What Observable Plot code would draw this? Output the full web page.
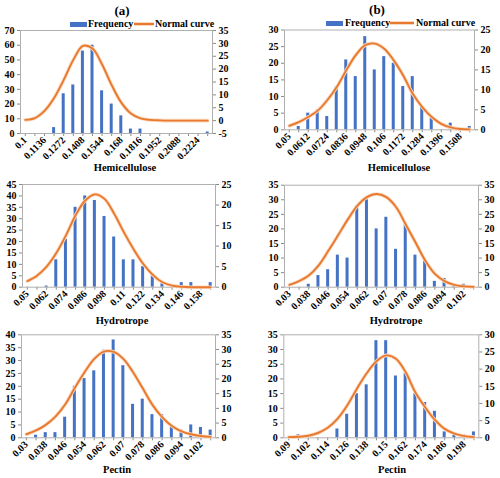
<!DOCTYPE html>
<html><head><meta charset="utf-8">
<script src="https://cdn.jsdelivr.net/npm/d3@7"></script>
<script src="https://cdn.jsdelivr.net/npm/@observablehq/plot@0.6"></script>
<style>
body{margin:0;background:#fff;}
#chart{position:relative;width:500px;height:478px;background:#fff;font-family:"Liberation Serif","Times New Roman",serif;font-weight:bold;color:#000;overflow:hidden}
#chart svg{position:absolute}
#chart svg text{fill:#000}
.t{position:absolute;white-space:nowrap;line-height:1;}
.c{transform:translate(-50%,-50%);}
.l{transform:translateY(-50%);}
</style></head>
<body><div id="chart"></div>
<script>
// ---------- data ----------
const catsA = ["0.1","0.1068","0.1136","0.1204","0.1272","0.134","0.1408","0.1476","0.1544","0.1612","0.168","0.1748","0.1816","0.1884","0.1952","0.202","0.2088","0.2156","0.2224","0.2292"];
const labelsA = ["0.1","0.1136","0.1272","0.1408","0.1544","0.168","0.1816","0.1952","0.2088","0.2224"];
const freqA = [0,0,0,4,27,33,56,60,29,20,12,3,3,0,0,0,0,0,0,1];
const curveA = [0.3,1.0,3.8,8.8,15.8,23.6,29.0,28.0,21.8,13.8,7.0,2.8,0.9,0.3,0.1,0,0,0,0,0];
const leftTicksA = [0,10,20,30,40,50,60,70];
const rightTicksA = [-5,0,5,10,15,20,25,30,35];

const catsB = ["0.05","0.0556","0.0612","0.0668","0.0724","0.078","0.0836","0.0892","0.0948","0.1004","0.106","0.1116","0.1172","0.1228","0.1284","0.134","0.1396","0.1452","0.1508","0.1564"];
const labelsB = ["0.05","0.0612","0.0724","0.0836","0.0948","0.106","0.1172","0.1284","0.1396","0.1508"];
const freqB = [0,1,5,6,4,13,21,16,28,18,22,20,13,16,7,4,0,2,0,1];
const curveB = [1.0,1.9,3.2,4.8,7.4,10.7,14.9,18.7,21.2,21.6,20.3,17.4,13.6,9.0,5.7,3.2,1.5,0.6,0.2,0.1];
const leftTicksB = [0,5,10,15,20,25,30];
const rightTicksB = [0,5,10,15,20,25];

const catsC = ["0.05","0.056","0.062","0.068","0.074","0.08","0.086","0.092","0.098","0.104","0.11","0.116","0.122","0.128","0.134","0.14","0.146","0.152","0.158","0.164"];
const labelsC = ["0.05","0.062","0.074","0.086","0.098","0.11","0.122","0.134","0.146","0.158"];
const freqC = [0,0,0.5,12,21,35,40,38,31,22,12,12,9,6,1.5,0,2,2,0,2];
const curveC = [1.5,2.8,5.0,8.3,12.6,17.5,21.1,22.6,21.5,17.9,13.4,9.3,5.7,3.0,1.2,0.4,0.1,0,0,0];
const leftTicksC = [0,5,10,15,20,25,30,35,40,45];
const rightTicksC = [0,5,10,15,20,25];

const catsDE = ["0.03","0.034","0.038","0.042","0.046","0.05","0.054","0.058","0.062","0.066","0.07","0.074","0.078","0.082","0.086","0.09","0.094","0.098","0.102","0.106"];
const labelsDE = ["0.03","0.038","0.046","0.054","0.062","0.07","0.078","0.086","0.094","0.102"];
const freqD = [0,0,1,4,6,11,10,28,30,20,24,13,22,11,9,2,3,0.5,1,0];
const curveD = [0.8,2.1,4.0,7.4,12.4,17.7,23.1,27.9,30.9,32.0,30.9,27.5,21.5,15.4,9.2,4.6,2.1,0.8,0.3,0.1];
const leftTicksD = [0,5,10,15,20,25,30,35];
const rightTicksD = [0,5,10,15,20,25,30,35];

const freqE = [0,1,2,2,8,20,23,26,34,38,28,13,15,9,9,5,3,5,4,3];
const curveE = [1.2,2.5,4.4,7.2,11.3,17.0,22.3,26.8,29.3,29.2,26.8,22.3,16.8,11.2,7.0,4.0,2.2,1.2,0.6,0.3];
const leftTicksE = [0,5,10,15,20,25,30,35,40];
const rightTicksE = [0,5,10,15,20,25,30,35];

const catsF = ["0.09","0.096","0.102","0.108","0.114","0.12","0.126","0.132","0.138","0.144","0.15","0.156","0.162","0.168","0.174","0.18","0.186","0.192","0.198","0.204"];
const labelsF = ["0.09","0.102","0.114","0.126","0.138","0.15","0.162","0.174","0.186","0.198"];
const freqF = [0,1,0,0,0,3,8,15,18,33,33,21,22,15,12,9,2,1,1,2];
const curveF = [0.2,0.3,0.6,1.4,2.9,5.5,9.4,14.3,18.8,22.3,24.0,23.0,19.1,13.2,8.9,5.2,2.6,1.2,0.5,0.2];
const leftTicksF = [0,5,10,15,20,25,30,35];
const rightTicksF = [0,5,10,15,20,25,30];

const panelTitles = ["(a)","(b)"];
const axisTitles = ["Hemicellulose","Hemicellulose","Hydrotrope","Hydrotrope","Pectin","Pectin"];
const legendLabels = ["Frequency","Normal curve"];

// ---------- layout ----------
const BLUE = "#4472c4", ORANGE = "#e8792f", GLOW = "#fbd9be";
const panels = [
  {left:0,   top:0,   w:250, h:168, ml:20,   mr:38,   mt:30,   mb:35,   cats:catsA,  labels:labelsA,  freq:freqA, curve:curveA, tL:leftTicksA, tR:rightTicksA},
  {left:250, top:0,   w:250, h:168, ml:34,   mr:26,   mt:29.5, mb:38.7, cats:catsB,  labels:labelsB,  freq:freqB, curve:curveB, tL:leftTicksB, tR:rightTicksB},
  {left:0,   top:150, w:250, h:168, ml:22,   mr:35,   mt:34,   mb:31.3, cats:catsC,  labels:labelsC,  freq:freqC, curve:curveC, tL:leftTicksC, tR:rightTicksC},
  {left:250, top:150, w:250, h:168, ml:34,   mr:22,   mt:34.7, mb:31.3, cats:catsDE, labels:labelsDE, freq:freqD, curve:curveD, tL:leftTicksD, tR:rightTicksD},
  {left:0,   top:300, w:250, h:178, ml:21,   mr:35,   mt:34.3, mb:40.7, cats:catsDE, labels:labelsDE, freq:freqE, curve:curveE, tL:leftTicksE, tR:rightTicksE},
  {left:250, top:300, w:250, h:178, ml:33.3, mr:21.7, mt:34.3, mb:40.7, cats:catsF,  labels:labelsF,  freq:freqF, curve:curveF, tL:leftTicksF, tR:rightTicksF}
];

const chart = document.getElementById("chart");
const svgStyle = {background:"transparent", color:"#8a8a8a", fontFamily:'"Liberation Serif","Times New Roman",serif', fontSize:"10px", fontWeight:"bold", overflow:"visible"};

function place(el, p){ el.style.left = p.left+"px"; el.style.top = p.top+"px"; chart.appendChild(el); }

for (const p of panels) {
  const bars = p.cats.map((c,i)=>({c, f:p.freq[i]}));
  const line = p.cats.map((c,i)=>({c, v:p.curve[i]}));
  const shown = new Set(p.labels);
  const step = (p.w - p.ml - p.mr) / p.cats.length;
  const inset = (step - 3) / 2;
  const common = {width:p.w, height:p.h, marginLeft:p.ml, marginRight:p.mr, marginTop:p.mt, marginBottom:p.mb, style:svgStyle};
  const barPlot = Plot.plot({
    ...common,
    x:{type:"band", domain:p.cats, padding:0, round:false, tickSize:3, tickPadding:2, tickRotate:-45, tickFormat:d=>shown.has(d)?d:"", label:null},
    y:{domain:[p.tL[0], p.tL[p.tL.length-1]], ticks:p.tL, tickSize:3, tickPadding:3, tickFormat:d=>String(d), label:null},
    marks:[
      Plot.barY(bars, {x:"c", y:"f", fill:BLUE, insetLeft:inset, insetRight:inset}),
      Plot.frame({stroke:"#b0b0b0"})
    ]
  });
  const curvePlot = Plot.plot({
    ...common,
    x:{type:"point", domain:p.cats, padding:0.5, round:false, axis:null},
    y:{domain:[p.tR[0], p.tR[p.tR.length-1]], ticks:p.tR, axis:"right", tickSize:3, tickPadding:3, tickFormat:d=>String(d), label:null},
    marks:[
      Plot.line(line, {x:"c", y:"v", curve:"catmull-rom", stroke:GLOW, strokeWidth:3.6}),
      Plot.line(line, {x:"c", y:"v", curve:"catmull-rom", stroke:ORANGE, strokeWidth:1.9})
    ]
  });
  place(barPlot, p);
  place(curvePlot, p);
}

function text(str, x, y, size, cls){
  const d = document.createElement("div");
  d.className = "t " + cls;
  d.textContent = str;
  d.style.fontSize = size+"px";
  d.style.left = x+"px"; d.style.top = y+"px";
  chart.appendChild(d);
}
function box(x, y, w, h, color){
  const d = document.createElement("div");
  d.style.cssText = `position:absolute;left:${x}px;top:${y}px;width:${w}px;height:${h}px;background:${color}`;
  chart.appendChild(d);
}

// panel titles
text(panelTitles[0], 122, 10, 13, "c");
text(panelTitles[1], 377, 9, 13, "c");

// legends
const legends = [
  {sx:70,  y:24, tx:88,  lx:134, lw:20, nx:155},
  {sx:326, y:23, tx:345, lx:390, lw:24, nx:416}
];
for (const g of legends) {
  box(g.sx, g.y-2.5, 17, 5, BLUE);
  text(legendLabels[0], g.tx, g.y, 10, "l");
  box(g.lx, g.y-2, g.lw, 4, GLOW);
  box(g.lx, g.y-1, g.lw, 2, ORANGE);
  text(legendLabels[1], g.nx, g.y, 10, "l");
}

// axis titles
const titlePos = [[125,168],[399,168],[122,321],[396,321],[117,470],[392,470]];
axisTitles.forEach((s,i)=>text(s, titlePos[i][0], titlePos[i][1], 10.5, "c"));
</script>
</body></html>
